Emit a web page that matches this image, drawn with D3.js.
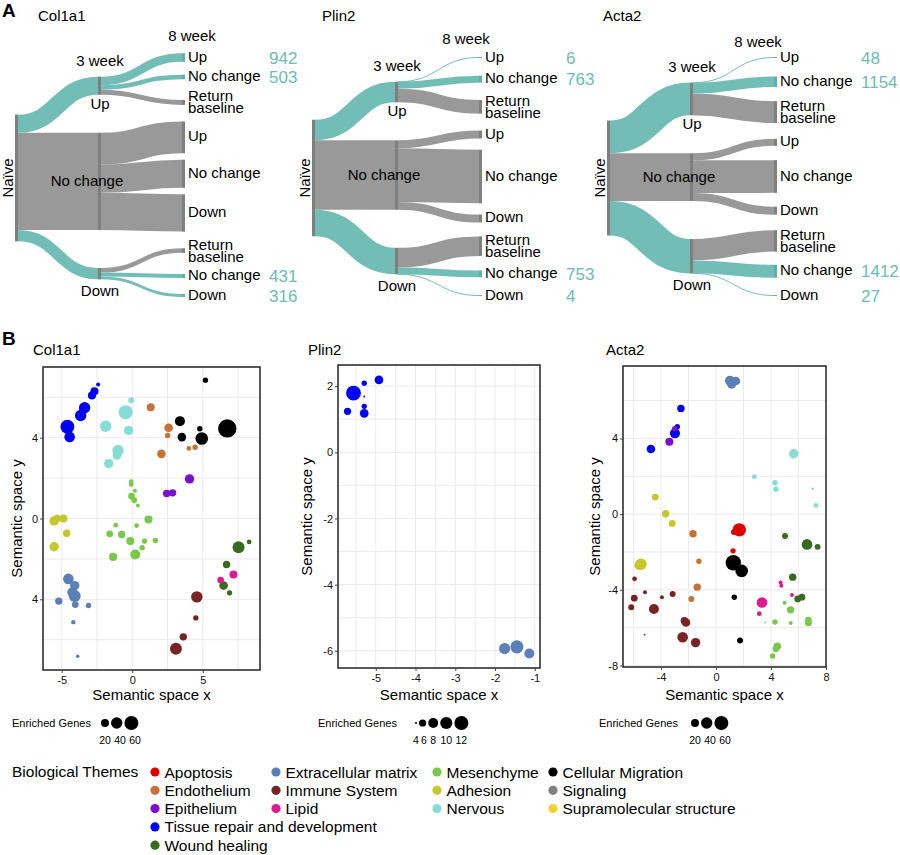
<!DOCTYPE html>
<html>
<head>
<meta charset="utf-8">
<script src="https://cdn.jsdelivr.net/npm/d3@7"></script>
<style>
  body { margin: 0; background: #fff; }
</style>
</head>
<body>
<div id="chart"></div>
<script>
// ---------- data ----------
var wk8Outcomes = [["Up", "No change", "Return baseline"], ["Up", "No change", "Down"], ["Return baseline", "No change", "Down"]];
// genes per 3 week state (Up, No change, Down) -> 8 week outcome
var col1a1Flows = [[942, 503, 550], [3500, 3100, 4100], [500, 431, 316]];
var plin2Flows = [[6, 763, 1500], [870, 5900, 870], [2150, 753, 4]];
var acta2Flows = [[48, 1154, 2400], [770, 3600, 880], [2350, 1412, 27]];

var themeKeys = ["apop", "endo", "epi", "tissue", "wound", "ecm", "immune", "lipid", "mes", "adh", "nerv", "migr", "sig", "supra"];
var themeNames = ["Apoptosis", "Endothelium", "Epithelium", "Tissue repair and development", "Wound healing",
  "Extracellular matrix", "Immune System", "Lipid", "Mesenchyme", "Adhesion", "Nervous",
  "Cellular Migration", "Signaling", "Supramolecular structure"];
var themeColors = ["#e00000", "#c87137", "#7a0fd0", "#0000f5", "#386a1f", "#5b80b7", "#7a2325", "#dd1a8f",
  "#78c94a", "#c7c62c", "#86ddd3", "#000000", "#7f7f7f", "#f0d232"];
var legendColumns = [5, 3, 3, 3];

// [semantic x, semantic y, enriched genes, theme]
var col1a1Terms = [
  [-2.42, 6.63, 5, "tissue"], [-2.68, 6.30, 20, "tissue"], [-2.86, 6.09, 20, "tissue"], [-3.38, 5.48, 40, "tissue"],
  [-3.66, 5.10, 40, "tissue"], [-4.60, 4.54, 60, "tissue"], [-4.44, 4.04, 35, "tissue"],
  [-0.07, 5.86, 11, "nerv"], [-0.47, 5.26, 60, "nerv"], [-1.88, 4.57, 40, "nerv"], [-0.26, 4.36, 27, "nerv"],
  [-1.01, 3.37, 40, "nerv"], [-1.08, 3.12, 23, "nerv"], [-1.67, 2.72, 27, "nerv"],
  [1.31, 5.51, 20, "endo"], [2.58, 4.49, 23, "endo"], [2.51, 4.11, 9, "endo"], [4.01, 3.47, 7, "endo"],
  [4.46, 3.53, 9, "endo"], [2.07, 3.20, 23, "endo"],
  [5.19, 6.85, 9, "migr"], [3.38, 4.82, 31, "migr"], [4.79, 4.44, 9, "migr"], [3.52, 4.03, 23, "migr"],
  [4.93, 3.96, 49, "migr"], [6.74, 4.46, 104, "migr"],
  [4.06, 1.96, 27, "epi"], [2.44, 1.24, 17, "epi"], [2.86, 1.27, 17, "epi"],
  [-0.07, 1.82, 7, "mes"], [-0.07, 1.68, 7, "mes"], [0.19, 1.37, 5, "mes"], [-0.05, 1.11, 14, "mes"],
  [0.14, 0.91, 11, "mes"], [0.40, 0.64, 5, "mes"], [1.15, -0.05, 20, "mes"], [-1.17, -0.33, 7, "mes"],
  [0.31, -0.35, 7, "mes"], [-1.60, -0.76, 14, "mes"], [-0.75, -0.79, 17, "mes"], [-0.14, -1.12, 20, "mes"],
  [0.87, -1.12, 9, "mes"], [1.64, -1.09, 9, "mes"], [0.70, -1.45, 9, "mes"], [-1.36, -1.90, 20, "mes"],
  [0.21, -1.78, 31, "mes"],
  [-5.54, -0.12, 27, "adh"], [-5.35, 0.0, 17, "adh"], [-4.88, 0.0, 20, "adh"], [-4.65, -0.73, 17, "adh"],
  [-5.54, -1.40, 27, "adh"],
  [-4.53, -2.99, 35, "ecm"], [-4.08, -3.32, 27, "ecm"], [-4.25, -3.65, 31, "ecm"], [-4.08, -3.84, 44, "ecm"],
  [-4.04, -4.26, 14, "ecm"], [-5.21, -4.09, 17, "ecm"], [-3.10, -4.31, 9, "ecm"], [-4.18, -5.13, 6, "ecm"],
  [-3.87, -6.82, 4, "ecm"],
  [7.54, -1.42, 44, "wound"], [8.29, -1.16, 7, "wound"], [6.69, -2.28, 17, "wound"], [6.48, -3.32, 23, "wound"],
  [6.90, -3.68, 9, "wound"],
  [7.18, -2.77, 20, "lipid"], [6.27, -3.05, 14, "lipid"],
  [4.58, -3.88, 40, "immune"], [4.51, -4.92, 9, "immune"], [3.62, -5.86, 17, "immune"], [3.10, -6.45, 44, "immune"]
];
var plin2Terms = [
  [-5.56, 1.79, 13, "tissue"], [-5.29, 2.09, 5, "tissue"], [-4.92, 2.19, 7, "tissue"], [-5.29, 1.69, 4, "tissue"],
  [-5.71, 1.24, 6, "tissue"], [-5.29, 1.39, 5, "tissue"], [-5.29, 1.18, 7, "tissue"],
  [-1.76, -5.93, 9, "ecm"], [-1.45, -5.88, 11, "ecm"], [-1.14, -6.08, 8, "ecm"]
];
var acta2Terms = [
  [1.02, 7.05, 31, "ecm"], [1.45, 7.04, 23, "ecm"], [1.14, 6.88, 27, "ecm"],
  [-2.55, 5.59, 17, "tissue"], [-2.81, 4.62, 9, "tissue"], [-2.98, 4.27, 31, "tissue"], [-4.73, 3.44, 23, "tissue"],
  [-3.00, 4.51, 9, "epi"], [-3.39, 3.83, 20, "epi"],
  [5.65, 3.19, 27, "nerv"], [2.79, 1.98, 7, "nerv"], [4.29, 1.66, 9, "nerv"], [4.36, 1.32, 9, "nerv"],
  [7.03, 1.34, 2, "nerv"], [7.27, 0.46, 7, "nerv"],
  [-4.41, 0.90, 14, "adh"], [-3.66, 0.02, 17, "adh"], [-3.18, -0.49, 14, "adh"], [-5.45, -2.65, 40, "adh"],
  [-5.60, -2.70, 27, "adh"],
  [-1.67, -1.04, 17, "endo"], [-1.24, -2.49, 9, "endo"], [-1.36, -3.86, 17, "endo"], [-1.79, -4.48, 11, "endo"],
  [1.70, -0.83, 55, "apop"], [1.31, -0.95, 11, "apop"], [1.24, -1.94, 9, "apop"],
  [1.26, -2.57, 73, "migr"], [1.87, -3.00, 49, "migr"], [1.33, -4.39, 9, "migr"], [1.75, -6.68, 11, "migr"],
  [-5.92, -3.42, 7, "immune"], [-5.94, -4.44, 14, "immune"], [-6.16, -4.92, 11, "immune"], [-5.16, -4.13, 5, "immune"],
  [-4.51, -5.01, 31, "immune"], [-3.93, -4.39, 5, "immune"], [-3.15, -4.22, 11, "immune"], [-2.18, -5.73, 23, "immune"],
  [-2.30, -5.63, 17, "immune"], [-2.42, -6.51, 35, "immune"], [-1.48, -6.79, 27, "immune"], [-5.19, -6.37, 1, "immune"],
  [3.35, -4.67, 35, "lipid"], [3.15, -5.26, 7, "lipid"], [4.70, -3.62, 5, "lipid"], [4.75, -3.79, 5, "lipid"],
  [5.53, -4.27, 5, "lipid"],
  [5.02, -1.15, 11, "wound"], [6.62, -1.60, 35, "wound"], [7.39, -1.73, 11, "wound"], [5.58, -3.33, 17, "wound"],
  [5.94, -4.48, 14, "wound"], [6.25, -4.39, 14, "wound"],
  [4.99, -4.69, 5, "mes"], [5.43, -5.06, 17, "mes"], [4.29, -5.70, 9, "mes"], [3.59, -5.73, 1, "mes"],
  [5.43, -5.75, 5, "mes"], [6.72, -5.60, 14, "mes"], [6.72, -5.75, 14, "mes"], [4.46, -6.98, 17, "mes"],
  [4.36, -7.11, 14, "mes"], [4.12, -7.50, 9, "mes"]
];

var col1a1XTicks = [-5, 0, 5], col1a1YTicks = [4, 0, -4], col1a1YTickLabels = ["4", "0", "4"];
var plin2XTicks = [-5, -4, -3, -2, -1], plin2YTicks = [2, 0, -2, -4, -6];
var acta2XTicks = [-4, 0, 4, 8], acta2YTicks = [4, 0, -4, -8];
var sizeLegendGenes = [20, 40, 60], sizeLegendPlin2 = [4, 6, 8, 10, 12];

// ---------- setup ----------
var font = "'Liberation Sans', Arial, Helvetica, sans-serif";
var svg = d3.select("#chart").append("svg")
    .attr("width", 900)
    .attr("height", 855)
    .style("font-family", font);

svg.append("text").attr("x", 2).attr("y", 17).attr("font-size", 19).attr("font-weight", "bold").text("A");
svg.append("text").attr("x", 2).attr("y", 345).attr("font-size", 19).attr("font-weight", "bold").text("B");

// ---------- A: sankey panels ----------
var px = d3.scaleLinear().domain([0, 110]).range([0, 1]); // genes -> pixels
var teal = "#72bdb6", tealNode = "#5eb0a8", linkGray = "#999999", nodeGray = "#7f7f7f", numTeal = "#6cbcb4";
var linkGen = d3.linkHorizontal();

var sankeyPanels = [
  { gene: "Col1a1", flows: col1a1Flows, x: 15, titleX: 38, wk8dx: 10, wk8dy: 0 },
  { gene: "Plin2", flows: plin2Flows, x: 312, titleX: 322, wk8dx: -13, wk8dy: 3 },
  { gene: "Acta2", flows: acta2Flows, x: 607, titleX: 603, wk8dx: -16, wk8dy: 6 }
];

sankeyPanels.forEach(function(p) {
    var g = svg.append("g");
    var cx = [p.x, p.x + 83, p.x + 167], nw = 3, midY = 178;

    var h3 = p.flows.map(function(f) { return px(d3.sum(f)); });
    var naive = { y0: midY - d3.sum(h3) / 2, h: d3.sum(h3) };

    var pad3 = 38, y = midY - (d3.sum(h3) + pad3 * 2) / 2;
    var n3 = h3.map(function(h) { var n = { y0: y, h: h }; y += h + pad3; return n; });

    // 8 week nodes: each takes at least the room of its label
    var n8 = [];
    p.flows.forEach(function(f, i) {
        f.forEach(function(v, j) {
            var name = wk8Outcomes[i][j];
            var h = Math.max(px(v), 1);
            n8.push({ i: i, v: v, w: px(v), h: h, name: name,
                      e: Math.max(h, name == "Return baseline" ? 25 : 13),
                      teal: i != 1 && name != "Return baseline" });
        });
    });
    var span8 = [51, 302];
    var pad8 = (span8[1] - span8[0] - d3.sum(n8, function(d) { return d.e; })) / (n8.length - 1);
    y = span8[0];
    n8.forEach(function(n) { n.y0 = y + (n.e - n.h) / 2; y += n.e + pad8; });

    // links
    var links = [];
    var sy = naive.y0;
    n3.forEach(function(n, i) {
        links.push({ source: [cx[0] + nw, sy + n.h / 2], target: [cx[1], n.y0 + n.h / 2], w: n.h,
                     c: i == 1 ? linkGray : teal });
        sy += n.h;
    });
    var off = n3.map(function(n) { return n.y0; });
    n8.forEach(function(n) {
        links.push({ source: [cx[1] + nw, off[n.i] + n.w / 2], target: [cx[2], n.y0 + n.h / 2],
                     w: Math.max(n.w, 1), c: n.teal ? teal : linkGray });
        off[n.i] += n.w;
    });

    g.selectAll("path.link").data(links).enter().append("path")
        .attr("d", linkGen)
        .attr("fill", "none")
        .attr("stroke", function(d) { return d.c; })
        .attr("stroke-width", function(d) { return d.w; });

    // nodes
    g.append("rect").attr("x", cx[0]).attr("y", naive.y0).attr("width", nw).attr("height", naive.h).attr("fill", nodeGray);
    g.selectAll("rect.n3").data(n3).enter().append("rect")
        .attr("x", cx[1]).attr("y", function(d) { return d.y0; })
        .attr("width", nw).attr("height", function(d) { return d.h; })
        .attr("fill", nodeGray);
    g.selectAll("rect.n8").data(n8).enter().append("rect")
        .attr("x", cx[2]).attr("y", function(d) { return d.y0; })
        .attr("width", nw).attr("height", function(d) { return d.h; })
        .attr("fill", function(d) { return d.teal ? tealNode : nodeGray; });

    // labels
    g.append("text").attr("x", p.titleX).attr("y", 21).attr("font-size", 15).text(p.gene);
    g.append("text").attr("x", cx[1] + 2).attr("y", n3[0].y0 - 11).attr("font-size", 15)
        .attr("text-anchor", "middle").text("3 week");
    g.append("text").attr("x", cx[2] + p.wk8dx).attr("y", span8[0] - 10 + p.wk8dy).attr("font-size", 15)
        .attr("text-anchor", "middle").text("8 week");
    g.append("text").attr("x", cx[1] + 2).attr("y", n3[0].y0 + n3[0].h + 14).attr("font-size", 15)
        .attr("text-anchor", "middle").text("Up");
    g.append("text").attr("x", cx[1] - 11).attr("y", n3[1].y0 + n3[1].h / 2 + 5).attr("font-size", 15)
        .attr("text-anchor", "middle").text("No change");
    g.append("text").attr("x", cx[1] + 2).attr("y", n3[2].y0 + n3[2].h + 17).attr("font-size", 15)
        .attr("text-anchor", "middle").text("Down");
    g.append("text")
        .attr("transform", "translate(" + (cx[0] - 2) + "," + (naive.y0 + naive.h / 2) + ") rotate(-90)")
        .attr("font-size", 15).attr("text-anchor", "middle").text("Naïve");

    n8.forEach(function(n) {
        var c = n.y0 + n.h / 2;
        if (n.name == "Return baseline") {
            var t = g.append("text").attr("x", cx[2] + nw + 3).attr("font-size", 15);
            t.append("tspan").attr("x", cx[2] + nw + 3).attr("y", c - 1).text("Return");
            t.append("tspan").attr("x", cx[2] + nw + 3).attr("y", c + 11).text("baseline");
        } else {
            g.append("text").attr("x", cx[2] + nw + 3).attr("y", c + 4).attr("font-size", 15).text(n.name);
        }
        if (n.teal) {
            g.append("text").attr("x", cx[2] + 87).attr("y", c + 6).attr("font-size", 17)
                .attr("fill", numTeal).text(n.v);
        }
    });
});

// ---------- B: semantic space bubble plots ----------
var themeColor = d3.scaleOrdinal().domain(themeKeys).range(themeColors);
var rGenes = d3.scaleSqrt().domain([0, 100]).range([0, 9]);
var rPlin2 = d3.scaleRadial().domain([4, 12]).range([1, 7]);

var scatterPanels = [
  { gene: "Col1a1", terms: col1a1Terms, box: [43, 367, 260, 670], xDom: [-6.33, 9.06], yDom: [-7.5, 7.5],
    xTicks: col1a1XTicks, yTicks: col1a1YTicks, yLabels: col1a1YTickLabels, xStep: 2.5, yStep: 2,
    r: rGenes, titleX: 33, yLabX: 22, legText: 12, legCirc: 105, legVals: sizeLegendGenes, legGap: 15 },
  { gene: "Plin2", terms: plin2Terms, box: [338, 365, 540, 668], xDom: [-5.95, -0.87], yDom: [-6.52, 2.64],
    xTicks: plin2XTicks, yTicks: plin2YTicks, yLabels: null, xStep: 0.5, yStep: 1,
    r: rPlin2, titleX: 308, yLabX: 312, legText: 318, legCirc: 416, legVals: sizeLegendPlin2, legGap: 8 },
  { gene: "Acta2", terms: acta2Terms, box: [623, 366, 826, 667], xDom: [-6.76, 8.0], yDom: [-8.08, 7.83],
    xTicks: acta2XTicks, yTicks: acta2YTicks, yLabels: null, xStep: 2, yStep: 2,
    r: rGenes, titleX: 606, yLabX: 600, legText: 599, legCirc: 695, legVals: sizeLegendGenes, legGap: 15 }
];

scatterPanels.forEach(function(p) {
    var b = p.box;
    var x = d3.scaleLinear().domain(p.xDom).range([b[0], b[2]]);
    var y = d3.scaleLinear().domain(p.yDom).range([b[3], b[1]]);
    var g = svg.append("g");

    // grid
    var gxs = d3.range(Math.ceil(p.xDom[0] / p.xStep) * p.xStep, p.xDom[1], p.xStep);
    var gys = d3.range(Math.ceil(p.yDom[0] / p.yStep) * p.yStep, p.yDom[1], p.yStep);
    g.selectAll("line.gx").data(gxs).enter().append("line")
        .attr("x1", function(d) { return x(d); }).attr("x2", function(d) { return x(d); })
        .attr("y1", b[1]).attr("y2", b[3]).attr("stroke", "#ebebeb");
    g.selectAll("line.gy").data(gys).enter().append("line")
        .attr("y1", function(d) { return y(d); }).attr("y2", function(d) { return y(d); })
        .attr("x1", b[0]).attr("x2", b[2]).attr("stroke", "#ebebeb");

    // bubbles, big ones first
    var terms = p.terms.slice().sort(function(a, c) { return c[2] - a[2]; });
    g.selectAll("circle.term").data(terms).enter().append("circle")
        .attr("cx", function(d) { return x(d[0]); })
        .attr("cy", function(d) { return y(d[1]); })
        .attr("r", function(d) { return p.r(d[2]); })
        .attr("fill", function(d) { return themeColor(d[3]); });

    g.append("rect").attr("x", b[0]).attr("y", b[1]).attr("width", b[2] - b[0]).attr("height", b[3] - b[1])
        .attr("fill", "none").attr("stroke", "#222").attr("stroke-width", 1.5);

    // axes
    var ax = g.append("g").attr("transform", "translate(0," + b[3] + ")")
        .call(d3.axisBottom(x).tickValues(p.xTicks).tickSize(3).tickPadding(3)
            .tickFormat(function(d) { return String(d); }));
    var ay = g.append("g").attr("transform", "translate(" + b[0] + ",0)")
        .call(d3.axisLeft(y).tickValues(p.yTicks).tickSize(3).tickPadding(2)
            .tickFormat(function(d, i) { return p.yLabels ? p.yLabels[i] : String(d); }));
    [ax, ay].forEach(function(a) {
        a.select(".domain").remove();
        a.selectAll("line").attr("stroke", "#444");
        a.selectAll("text").attr("font-size", 11).attr("font-family", font).attr("fill", "#111");
    });

    g.append("text").attr("x", p.titleX).attr("y", 355).attr("font-size", 15).text(p.gene);
    g.append("text").attr("x", (b[0] + b[2]) / 2).attr("y", 700).attr("font-size", 15)
        .attr("text-anchor", "middle").text("Semantic space x");
    g.append("text")
        .attr("transform", "translate(" + p.yLabX + "," + (b[1] + b[3]) / 2 + ") rotate(-90)")
        .attr("font-size", 15).attr("text-anchor", "middle").text("Semantic space y");

    // size legend
    g.append("text").attr("x", p.legText).attr("y", 727).attr("font-size", 11).text("Enriched Genes");
    var lx = p.legCirc, prevR = 0, labX = -99;
    p.legVals.forEach(function(v, i) {
        var r = p.r(v);
        if (i > 0) lx += prevR + r + 2;
        g.append("circle").attr("cx", lx).attr("cy", 723).attr("r", r).attr("fill", "#000");
        labX = Math.max(lx, labX + p.legGap);
        g.append("text").attr("x", labX).attr("y", 744).attr("font-size", 10.5)
            .attr("text-anchor", "middle").text(v);
        prevR = r;
    });
});

// ---------- theme legend ----------
svg.append("text").attr("x", 12).attr("y", 777).attr("font-size", 15.5).text("Biological Themes");
var colX = [155, 276, 437, 553], k = 0;
legendColumns.forEach(function(n, c) {
    for (var row = 0; row < n; row++, k++) {
        var cy = 772 + row * 18.3;
        svg.append("circle").attr("cx", colX[c]).attr("cy", cy).attr("r", 4.6).attr("fill", themeColors[k]);
        svg.append("text").attr("x", colX[c] + 9.5).attr("y", cy + 5.5).attr("font-size", 15.5).text(themeNames[k]);
    }
});
</script>
</body>
</html>
